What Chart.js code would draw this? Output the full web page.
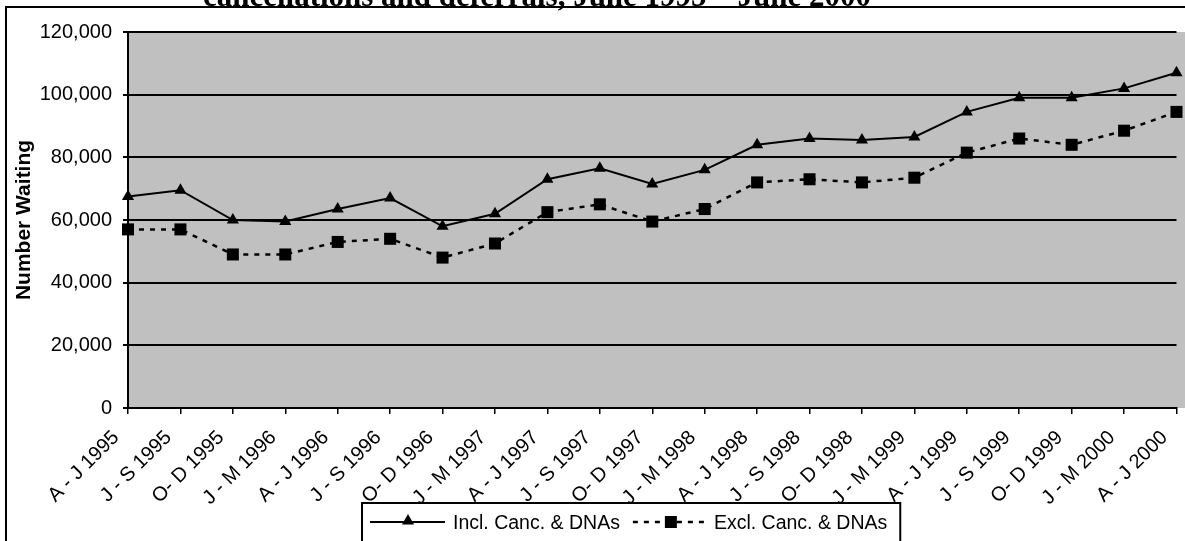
<!DOCTYPE html>
<html><head><meta charset="utf-8">
<script src="https://cdn.jsdelivr.net/npm/chart.js@4/dist/chart.umd.min.js"></script>
<style>html,body{margin:0;padding:0;background:#fff;overflow:hidden}#wrap{position:absolute;left:0;top:0;width:1185px;height:541px}</style>
</head><body><div id="wrap"><canvas id="c"></canvas></div>
<script>
const titleText = "cancellations and deferrals, June 1995 \u2013 June 2000";
const yAxisTitle = "Number Waiting";
const categories = ["A - J 1995","J - S 1995","O- D 1995","J - M 1996","A - J 1996","J - S 1996","O- D 1996","J - M 1997","A - J 1997","J - S 1997","O- D 1997","J - M 1998","A - J 1998","J - S 1998","O- D 1998","J - M 1999","A - J 1999","J - S 1999","O- D 1999","J - M 2000","A - J 2000"];
const inclLabel = "Incl. Canc. & DNAs";
const exclLabel = "Excl. Canc. & DNAs";
const inclValues = [67500,69500,60000,59500,63500,67000,58000,62000,73000,76500,71500,76000,84000,86000,85500,86500,94500,99000,99000,102000,107000];
const exclValues = [57000,57000,49000,49000,53000,54000,48000,52500,62500,65000,59500,63500,72000,73000,72000,73500,81500,86000,84000,88500,94500];
const yTicks = [0,20000,40000,60000,80000,100000,120000];

const SANS = '"Liberation Sans", Arial, sans-serif';
const SERIF = '"Liberation Serif", "Times New Roman", serif';

function drawTri(ctx, x, y, r){
  ctx.beginPath();
  ctx.moveTo(x, y - r);
  ctx.lineTo(x + 0.866*r, y + 0.5*r);
  ctx.lineTo(x - 0.866*r, y + 0.5*r);
  ctx.closePath(); ctx.fill();
}

const decor = {
  id: 'decor',
  beforeDraw(chart){
    const {ctx, chartArea:a} = chart;
    ctx.save();
    ctx.fillStyle = '#C0C0C0';
    ctx.fillRect(a.left, a.top, chart.width - a.left, a.bottom - a.top);
    ctx.restore();
  },
  afterDraw(chart){
    const ctx = chart.ctx;
    ctx.save();
    // outer frame
    ctx.strokeStyle = '#000'; ctx.lineWidth = 2;
    ctx.strokeRect(6, 7, chart.width + 20, chart.height + 40);
    // title (clipped at top like the reference)
    ctx.fillStyle = '#000';
    ctx.font = 'bold 31px ' + SERIF;
    ctx.textAlign = 'center'; ctx.textBaseline = 'alphabetic';
    ctx.fillText(titleText, 537, 5.5);
    // legend
    ctx.font = '19.5px ' + SANS;
    ctx.textAlign = 'left'; ctx.textBaseline = 'alphabetic';
    const L = 362, T = 503, cy = 522, base = 529;
    let x = L + 8;
    ctx.strokeStyle = '#000'; ctx.lineWidth = 2; ctx.setLineDash([]);
    ctx.beginPath(); ctx.moveTo(x, cy); ctx.lineTo(x + 75, cy); ctx.stroke();
    drawTri(ctx, x + 38, cy - 1, 7);
    x += 83;
    ctx.fillText(inclLabel, x, base);
    x += ctx.measureText(inclLabel).width + 13;
    ctx.setLineDash([5,6]); ctx.lineWidth = 2.5;
    ctx.beginPath(); ctx.moveTo(x, cy); ctx.lineTo(x + 74, cy); ctx.stroke();
    ctx.setLineDash([]);
    ctx.fillRect(x + 38 - 6, cy - 6, 12, 12);
    x += 81;
    ctx.fillText(exclLabel, x, base);
    x += ctx.measureText(exclLabel).width + 13;
    ctx.lineWidth = 2;
    ctx.strokeRect(L, T, x - L, 60);
    ctx.restore();
  }
};

new Chart(document.getElementById('c'), {
  type: 'line',
  data: {
    labels: categories,
    datasets: [
      { label: inclLabel, data: inclValues, borderColor: '#000', backgroundColor: '#000', borderWidth: 2,
        pointStyle: 'triangle', pointRadius: 7, pointHoverRadius: 7, pointBackgroundColor: '#000', pointBorderWidth: 0,
        tension: 0, fill: false, clip: false },
      { label: exclLabel, data: exclValues, borderColor: '#000', backgroundColor: '#000', borderWidth: 2.5, borderDash: [5,6],
        pointStyle: 'rect', pointRadius: 8.5, pointHoverRadius: 8.5, pointBackgroundColor: '#000', pointBorderWidth: 0,
        tension: 0, fill: false, clip: false }
    ]
  },
  options: {
    responsive: true, maintainAspectRatio: false, animation: false,
    layout: { padding: { top: 32, right: 2, bottom: 0, left: 0 } },
    plugins: { legend: { display: false }, title: { display: false }, tooltip: { enabled: false } },
    scales: {
      x: {
        offset: false,
        grid: { drawOnChartArea: false, drawTicks: true, tickLength: 6, color: '#000', lineWidth: 1.5 },
        border: { display: true, color: '#000', width: 2 },
        ticks: { autoSkip: false, minRotation: 45, maxRotation: 45, labelOffset: -12, padding: 12,
                 color: '#000', font: { family: SANS, size: 20 } },
        afterFit(s){ s.height = 133; s.paddingLeft = 0; s.paddingRight = 0; }
      },
      y: {
        min: 0, max: 120000,
        afterBuildTicks(s){ s.ticks = yTicks.map(v => ({ value: v })); },
        grid: { drawOnChartArea: true, drawTicks: true, tickLength: 5, color: '#000', lineWidth: 2 },
        border: { display: true, color: '#000', width: 2 },
        ticks: { padding: 11, color: '#000', font: { family: SANS, size: 20 },
                 callback: v => Number(v).toLocaleString('en-US') },
        title: { display: true, text: yAxisTitle, color: '#000', font: { family: SANS, size: 21, weight: 'bold' },
                 padding: { top: 12, bottom: 0 } },
        afterFit(s){ s.width = 128; }
      }
    }
  },
  plugins: [decor]
});
</script></body></html>
